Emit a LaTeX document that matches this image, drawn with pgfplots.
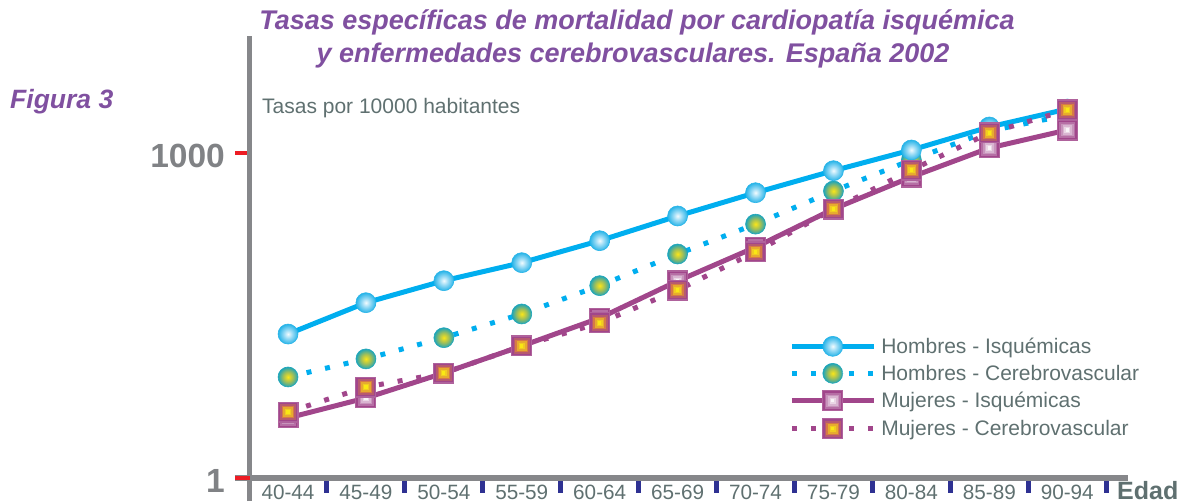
\documentclass[border=0pt]{standalone}
\usepackage{fontspec}
\setmainfont{Liberation Sans}
\usepackage{pgfplots}
\pgfplotsset{compat=1.18}

\definecolor{hblue}{RGB}{0,174,239}
\definecolor{mpurp}{RGB}{161,70,139}
\definecolor{ttl}{RGB}{128,80,160}
\definecolor{txtgray}{RGB}{95,112,112}
\definecolor{axgray}{RGB}{134,135,138}
\definecolor{numgray}{RGB}{128,130,133}
\definecolor{tkblue}{RGB}{46,49,146}
\definecolor{tkred}{RGB}{237,28,36}
\definecolor{hi0}{RGB}{242,251,254}
\definecolor{hi1}{RGB}{150,218,245}
\definecolor{hi2}{RGB}{40,180,232}
\definecolor{hc0}{RGB}{250,230,25}
\definecolor{hc1}{RGB}{165,192,85}
\definecolor{hc2}{RGB}{30,165,185}
\definecolor{mcor}{RGB}{214,122,70}
\definecolor{mcy}{RGB}{250,232,20}

\pgfdeclareradialshading{hishade}{\pgfpointorigin}{color(0bp)=(hi0); color(11bp)=(hi1); color(25bp)=(hi2); color(50bp)=(hi2)}
\pgfdeclareradialshading{hcshade}{\pgfpointorigin}{color(0bp)=(hc0); color(12bp)=(hc1); color(25bp)=(hc2); color(50bp)=(hc2)}

\pgfdeclareplotmark{hicirc}{%
  \pgfsetdash{}{0pt}%
  \pgfpathcircle{\pgfpointorigin}{\pgfplotmarksize}%
  \pgfshadepath{hishade}{0}%
  \pgfsetlinewidth{0.6bp}\pgfsetstrokecolor{hi2}%
  \pgfusepathqstroke}
\pgfdeclareplotmark{hccirc}{%
  \pgfsetdash{}{0pt}%
  \pgfpathcircle{\pgfpointorigin}{\pgfplotmarksize}%
  \pgfshadepath{hcshade}{0}%
  \pgfsetlinewidth{0.6bp}\pgfsetstrokecolor{hc2}%
  \pgfusepathqstroke}

\newcommand\sqlevel[2]{%
  \pgfpathrectanglecorners{\pgfpoint{-#1\pgfplotmarksize}{-#1\pgfplotmarksize}}{\pgfpoint{#1\pgfplotmarksize}{#1\pgfplotmarksize}}%
  \pgfsetfillcolor{#2}\pgfusepathqfill}

\pgfdeclareplotmark{misq}{%
  \sqlevel{1}{mpurp!85!white}%
  \sqlevel{0.9}{mpurp}%
  \sqlevel{0.75}{mpurp!78!white}%
  \sqlevel{0.6}{mpurp!58!white}%
  \sqlevel{0.45}{mpurp!40!white}%
  \sqlevel{0.3}{mpurp!22!white}%
  \sqlevel{0.15}{mpurp!6!white}}
\pgfdeclareplotmark{mcsq}{%
  \sqlevel{1}{mpurp!85!white}%
  \sqlevel{0.9}{mpurp}%
  \sqlevel{0.75}{mpurp!60!mcor}%
  \sqlevel{0.6}{mcor}%
  \sqlevel{0.45}{mcor!55!mcy}%
  \sqlevel{0.3}{mcor!25!mcy}%
  \sqlevel{0.15}{mcy}}

\pgfplotsset{
  hi/.style={color=hblue, line width=5bp, solid, mark=hicirc, mark size=10bp},
  hc/.style={color=hblue, line width=5bp, dash pattern=on 5bp off 14bp, mark=hccirc, mark size=10bp},
  mi/.style={color=mpurp, line width=5bp, solid, mark=misq, mark size=10.5bp},
  mc/.style={color=mpurp, line width=5bp, dash pattern=on 5bp off 14bp, mark=mcsq, mark size=10.5bp},
}

\begin{document}
\begin{tikzpicture}
\useasboundingbox (-250bp,-25bp) rectangle (947bp,478bp);
\begin{axis}[
  at={(0,0)}, anchor=south west,
  scale only axis, width=878bp, height=442bp,
  ymode=log, ymin=1, ymax=12160,
  xmin=-0.488, xmax=10.78,
  clip=false,
  axis lines*=left,
  axis line style={axgray, line width=5bp},
  x axis line style={shorten <=-15bp},
  y axis line style={shorten <=-23bp},
  tick align=outside,
  major tick length=15bp,
  xtick={0.5,1.5,2.5,3.5,4.5,5.5,6.5,7.5,8.5,9.5,10.5},
  xticklabels={,,,,,,,,,,},
  xtick style={tkblue, line width=5bp},
  extra x ticks={0,1,2,3,4,5,6,7,8,9,10},
  extra x tick labels={40-44,45-49,50-54,55-59,60-64,65-69,70-74,75-79,80-84,85-89,90-94},
  extra x tick style={major tick length=0pt, tick style={draw=none},
     xticklabel style={anchor=north, inner sep=0pt, yshift=-7bp}},
  xticklabel style={font=\fontsize{20.7bp}{24bp}\selectfont, text=txtgray},
  ytick={1000}, yticklabels={1000},
  extra y ticks={1}, extra y tick labels={1},
  ytick style={tkred, line width=4bp},
  extra y tick style={tick style={line width=1.5bp}},
  yticklabel style={font=\fontsize{33.5bp}{40bp}\selectfont\bfseries, text=numgray, anchor=east, inner sep=0pt, yshift=-3bp, xshift=-10bp},
  minor tick num=0,
  legend cell align=left,
  legend image code/.code={\draw[mark repeat=2,mark phase=2,#1] plot coordinates {(0bp,0bp) (41bp,0bp) (82bp,0bp)};},
  legend style={draw=none, fill=none, at={(axis description cs:0.614,0.204)}, anchor=west,
     font=\fontsize{21bp}{25bp}\selectfont, text=txtgray, row sep=7bp, column sep=4bp,
     inner sep=0pt, nodes={inner sep=1bp}},
]
\addlegendimage{hi}\addlegendentry{Hombres - Isquémicas}
\addlegendimage{hc}\addlegendentry{Hombres - Cerebrovascular}
\addlegendimage{mi}\addlegendentry{Mujeres - Isquémicas}
\addlegendimage{mc}\addlegendentry{Mujeres - Cerebrovascular}

\addplot[hc, forget plot] coordinates {(0,8.58) (1,12.6) (2,19.8) (3,32.8) (4,59.9) (5,117.5) (6,222) (7,449) (8,869) (9,1610) (10,2264)};
\addplot[hi, forget plot] coordinates {(0,21.4) (1,41.7) (2,66.6) (3,97.7) (4,156) (5,264) (6,433) (7,692) (8,1075) (9,1754) (10,2570)};
\addplot[mi, forget plot] coordinates {(0,3.59) (1,5.49) (2,9.34) (3,16.6) (4,30.1) (5,66.2) (6,136) (7,306) (8,605) (9,1122) (10,1645)};
\addplot[mc, forget plot] coordinates {(0,4.07) (1,6.93) (2,9.34) (3,16.6) (4,27.1) (5,54.6) (6,122.7) (7,306) (8,702) (9,1544) (10,2518)};
\end{axis}
\node[anchor=base, font=\fontsize{27bp}{32bp}\selectfont\bfseries\itshape, text=ttl] at (387bp,448.5bp) {Tasas específicas de mortalidad por cardiopatía isquémica};
\node[anchor=base, font=\fontsize{27bp}{32bp}\selectfont\bfseries\itshape, text=ttl] at (383bp,415bp) {y enfermedades cerebrovasculares. España 2002};
\node[anchor=base west, inner sep=0pt, font=\fontsize{26.5bp}{32bp}\selectfont\bfseries\itshape, text=ttl] at (-240bp,369bp) {Figura 3};
\node[anchor=base west, inner sep=0pt, font=\fontsize{21bp}{25bp}\selectfont, text=txtgray] at (12bp,364bp) {Tasas por 10000 habitantes};
\node[anchor=north west, inner sep=0pt, font=\fontsize{25bp}{30bp}\selectfont\bfseries, text=txtgray] at (867bp,-3bp) {Edad};
\end{tikzpicture}
\end{document}
